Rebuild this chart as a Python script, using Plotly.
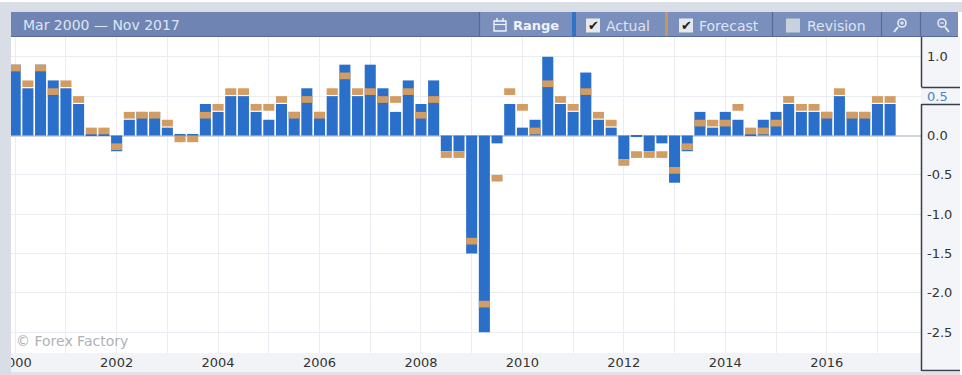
import plotly.graph_objects as go

years = [2000 + i / 4 for i in range(70)]
actual = [0.9, 0.6, 0.9, 0.7, 0.6, 0.4, 0.02, 0.02, -0.2, 0.2,
          0.3, 0.3, 0.1, 0.02, 0.02, 0.4, 0.3, 0.5, 0.5, 0.3,
          0.2, 0.4, 0.3, 0.6, 0.3, 0.5, 0.9, 0.5, 0.9, 0.6,
          0.3, 0.7, 0.4, 0.7, -0.2, -0.2, -1.5, -2.5, -0.1, 0.4,
          0.1, 0.2, 1.0, 0.4, 0.3, 0.8, 0.2, 0.1, -0.3, -0.02,
          -0.2, -0.1, -0.6, -0.2, 0.3, 0.1, 0.3, 0.2, 0.02, 0.2,
          0.3, 0.4, 0.3, 0.3, 0.3, 0.5, 0.3, 0.3, 0.4, 0.4]
forecast = [0.9, 0.7, 0.9, 0.6, 0.7, 0.5, 0.1, 0.1, -0.1, 0.3,
            0.3, 0.3, 0.2, 0.0, 0.0, 0.3, 0.4, 0.6, 0.6, 0.4,
            0.4, 0.5, 0.3, 0.5, 0.3, 0.6, 0.8, 0.6, 0.6, 0.5,
            0.5, 0.6, 0.3, 0.5, -0.2, -0.2, -1.3, -2.1, -0.5, 0.6,
            0.4, 0.1, 0.7, 0.5, 0.4, 0.6, 0.3, 0.2, -0.3, -0.2,
            -0.2, -0.2, -0.4, -0.1, 0.2, 0.2, 0.2, 0.4, 0.1, 0.1,
            0.2, 0.5, 0.4, 0.4, 0.3, 0.6, 0.3, 0.3, 0.5, 0.5]
year_ticks = list(range(2000, 2018))
year_labels = [str(y) if y % 2 == 0 else "" for y in year_ticks]
value_ticks = [1.0, 0.5, 0.0, -0.5, -1.0, -1.5, -2.0, -2.5]
value_labels = ["1.0", "<span style='color:#4a86c0'>0.5</span>", "0.0", "-0.5",
                "-1.0", "-1.5", "-2.0", "-2.5"]
title_text = "Mar 2000 — Nov 2017"

W, H = 962, 375
L, R, T, B = 11, 921, 37, 353
X0, PX_YEAR = 15.2, 50.72
Y0, PX_UNIT = 135.5, 78.7
BAND = -0.085
FONT = "DejaVu Sans"


def px(x):
    return (x - L) / (R - L)


def py(y):
    return (B - y) / (B - T)


shapes, annos = [], []


def rect(x0, y0, x1, y1, fill, layer="below", line=None, lw=0):
    shapes.append(dict(type="rect", xref="paper", yref="paper", layer=layer,
                       x0=px(x0), x1=px(x1), y0=py(y0), y1=py(y1), fillcolor=fill,
                       line=dict(color=line or fill, width=lw)))


def seg(x0, y0, x1, y1, color, w=1.5, layer="above"):
    shapes.append(dict(type="line", xref="paper", yref="paper", layer=layer,
                       x0=px(x0), x1=px(x1), y0=py(y0), y1=py(y1),
                       line=dict(color=color, width=w)))


def circ(x0, y0, x1, y1, color):
    shapes.append(dict(type="circle", xref="paper", yref="paper", layer="above",
                       x0=px(x0), x1=px(x1), y0=py(y0), y1=py(y1),
                       line=dict(color=color, width=1.6)))


def text(x, y, s, color, size=14, anchor="left"):
    annos.append(dict(xref="paper", yref="paper", x=px(x), y=py(y), text=s, showarrow=False,
                      xanchor=anchor, yanchor="middle", borderpad=0, borderwidth=0,
                      font=dict(family=FONT, size=size, color=color)))


# page frame
rect(0, 0, W, 2, "#ffffff")
rect(0, 2, 11, H, "#d9dde6", layer="above")
rect(11, 2, 962, 12, "#d9dde6")
rect(11, 353, 921, 372, "#f1f3f7")
rect(11, 372, W, H, "#dfe2e9")
rect(921, 37, 960, 371, "#f3f5f9")
rect(960, 12, W, H, "#ffffff")

# right panel outline
seg(921.5, 37, 921.5, 87, "#3c3f46", 1.5)
seg(921.5, 87.5, 960, 87.5, "#3c3f46", 1.5)
seg(921.5, 104.5, 960, 104.5, "#3c3f46", 1.5)
seg(921.5, 104, 921.5, 371, "#3c3f46", 1.5)
seg(921.5, 370.5, 960, 370.5, "#3c3f46", 1.5)

# header bar
rect(11, 12, 958, 37, "#6f84b3", layer="above")
rect(11, 36, 958, 37, "#566a98", layer="above")
rect(480, 12, 572, 36, "#7b8fbc", layer="above")
rect(576, 12, 958, 36, "#7b8fbc", layer="above")
rect(572, 12, 576, 36, "#2f74c8", layer="above")
rect(665, 12, 668, 36, "#c9955f", layer="above")
for sx in (479.5, 772.5, 881.5, 920.5):
    seg(sx, 12, sx, 36, "#566a98", 1.2)

text(23, 25, title_text, "#dde4f2", 14)
text(513, 25.5, "<b>Range</b>", "#eef2fa", 13)
text(606, 25.5, "Actual", "#dde4f2", 14)
text(699, 25.5, "Forecast", "#dde4f2", 14)
text(807, 25.5, "Revision", "#dde4f2", 14)

# calendar icon
rect(494, 21, 506, 31, "rgba(0,0,0,0)", layer="above", line="#eef2fa", lw=1.4)
seg(494, 24.5, 506, 24.5, "#eef2fa", 1.2)
seg(497, 18, 497, 22, "#eef2fa", 1.4)
seg(503, 18, 503, 22, "#eef2fa", 1.4)

# checkboxes
for cx, chk in ((593, True), (686, True), (793, False)):
    rect(cx - 7, 18.5, cx + 7, 32.5, "#e6e8ec" if chk else "#c9d0de", layer="above")
    if chk:
        text(cx, 25.5, "✔", "#1d1d1d", 13, anchor="center")

# zoom icons
for mx, plus in ((901, True), (941, False)):
    circ(mx - 3, 19, mx + 5, 27, "#e6ebf5")
    seg(mx - 3, 27, mx - 7, 32, "#e6ebf5", 2) if plus else seg(mx + 4, 27, mx + 8, 32, "#e6ebf5", 2)
    seg(mx - 1, 23, mx + 3, 23, "#e6ebf5", 1.2)
    if plus:
        seg(mx + 1, 21, mx + 1, 25, "#e6ebf5", 1.2)

text(16, 341, "© Forex Factory", "#aeb1b5", 14)

fig = go.Figure()
fig.add_bar(x=years, y=actual, width=0.218, marker=dict(color="#2a6fca", line=dict(width=0)),
            name="Actual")
fig.add_bar(x=years, y=[BAND] * len(forecast), base=forecast, width=0.218,
            marker=dict(color="#d39c62", line=dict(width=0)), name="Forecast")

fig.update_layout(
    width=W, height=H, autosize=False, barmode="overlay", showlegend=False,
    margin=dict(l=L, r=W - R, t=T, b=H - B, pad=0),
    paper_bgcolor="#ffffff", plot_bgcolor="#ffffff",
    font=dict(family=FONT, size=13, color="#333333"),
    shapes=shapes, annotations=annos,
    xaxis=dict(range=[2000 + (L - X0) / PX_YEAR, 2000 + (R - X0) / PX_YEAR],
               tickvals=year_ticks, ticktext=year_labels, showgrid=True,
               gridcolor="#e9edf3", gridwidth=1, zeroline=False, ticks="", showline=False,
               tickangle=0, tickfont=dict(family=FONT, size=13, color="#333333"),
               ticklabeloverflow="allow", automargin=False),
    yaxis=dict(range=[(Y0 - B) / PX_UNIT, (Y0 - T) / PX_UNIT], side="right",
               tickvals=value_ticks, ticktext=value_labels, showgrid=True,
               gridcolor="#e9edf3", gridwidth=1, zeroline=True, zerolinecolor="#cfd3da",
               zerolinewidth=1.5, ticks="", showline=False, ticklabelstandoff=5,
               tickfont=dict(family=FONT, size=13, color="#333333"), automargin=False),
)

fig.write_html("out.html", config=dict(displayModeBar=False),
               post_script="document.body.style.margin='0';document.body.style.overflow='hidden';")
